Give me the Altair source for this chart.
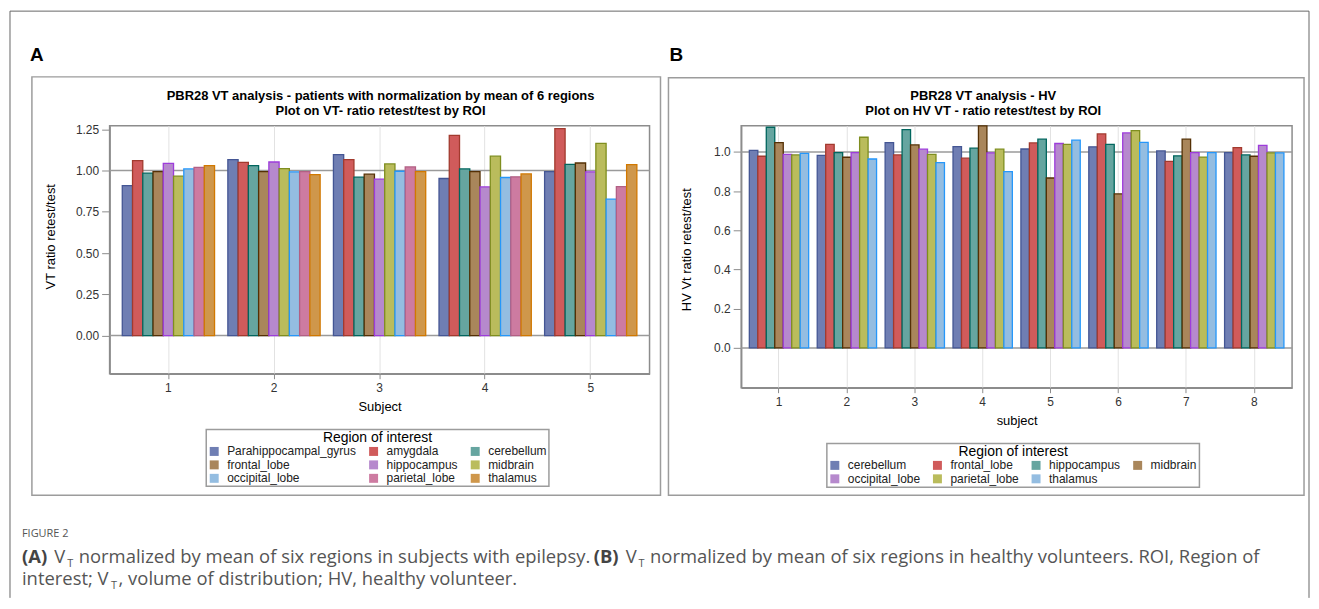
import altair as alt
import pandas as pd

# ---------------- data: panel A (patients) ----------------
subjects_a = ["1", "2", "3", "4", "5"]
regions_a = ["Parahippocampal_gyrus", "amygdala", "cerebellum", "frontal_lobe",
             "hippocampus", "midbrain", "occipital_lobe", "parietal_lobe", "thalamus"]
parahippocampal_a = [0.909, 1.066, 1.097, 0.952, 0.994]
amygdala_a = [1.060, 1.050, 1.066, 1.213, 1.254]
cerebellum_a = [0.984, 1.030, 0.960, 1.010, 1.038]
frontal_a = [0.994, 0.994, 0.978, 0.994, 1.046]
hippocampus_a = [1.044, 1.052, 0.948, 0.901, 0.992]
midbrain_a = [0.966, 1.012, 1.040, 1.087, 1.165]
occipital_a = [1.010, 0.992, 0.996, 0.958, 0.827]
parietal_a = [1.020, 0.994, 1.022, 0.962, 0.903]
thalamus_a = [1.030, 0.976, 0.994, 0.980, 1.036]
ticks_a = [0.0, 0.25, 0.5, 0.75, 1.0, 1.25]

# ---------------- data: panel B (healthy volunteers) ----------------
subjects_b = ["1", "2", "3", "4", "5", "6", "7", "8"]
regions_b = ["cerebellum", "frontal_lobe", "hippocampus", "midbrain",
             "occipital_lobe", "parietal_lobe", "thalamus"]
cerebellum_b = [1.008, 0.983, 1.048, 1.027, 1.015, 1.026, 1.005, 0.997]
frontal_b = [0.978, 1.039, 0.985, 0.968, 1.046, 1.092, 0.952, 1.022]
hippocampus_b = [1.126, 0.997, 1.114, 1.019, 1.065, 1.039, 0.980, 0.985]
midbrain_b = [1.048, 0.973, 1.036, 1.133, 0.867, 0.786, 1.065, 0.978]
occipital_b = [0.988, 0.997, 1.014, 0.995, 1.043, 1.097, 0.997, 1.034]
parietal_b = [0.985, 1.075, 0.988, 1.014, 1.039, 1.109, 0.974, 0.995]
thalamus_b = [0.993, 0.964, 0.946, 0.900, 1.060, 1.049, 0.997, 0.995]
ticks_b = [0.0, 0.2, 0.4, 0.6, 0.8, 1.0]

fill_colors = ["#6F7EB3", "#D05B5B", "#66A5A0", "#A9865B", "#B689CD",
               "#BABC5C", "#94BDE1", "#CD7BA1", "#CF974B"]
edge_colors = ["#445694", "#A23A2E", "#01665E", "#543005", "#9D3CDB",
               "#7F8E1F", "#2597FA", "#B26084", "#D17800"]

FONT = "Liberation Sans"
CAP_FONT = "Open Sans"
CAP = 18.5


def long_table(subjects, regions, series):
    rows = []
    for reg, vals in zip(regions, series):
        for s, v in zip(subjects, vals):
            rows.append({"subject": s, "region": reg, "value": v})
    return pd.DataFrame(rows)


df_a = long_table(subjects_a, regions_a,
                  [parahippocampal_a, amygdala_a, cerebellum_a, frontal_a, hippocampus_a,
                   midbrain_a, occipital_a, parietal_a, thalamus_a])
df_b = long_table(subjects_b, regions_b,
                  [cerebellum_b, frontal_b, hippocampus_b, midbrain_b,
                   occipital_b, parietal_b, thalamus_b])


def txt(text, x, y, size, color="#000000", weight="normal", font=FONT, align="left", angle=0):
    return alt.Chart(pd.DataFrame({"t": [text]})).mark_text(
        align=align, baseline="alphabetic", fontSize=size, fontWeight=weight,
        font=font, color=color, angle=angle
    ).encode(text="t:N", x=alt.value(x), y=alt.value(y))


def box(x1, x2, y1, y2, color="#9c9c9c", width=1.5):
    return alt.Chart(pd.DataFrame({"k": [0]})).mark_rect(
        fillOpacity=0, stroke=color, strokeWidth=width
    ).encode(x=alt.value(x1), x2=alt.value(x2), y=alt.value(y1), y2=alt.value(y2))


def hline(x1, x2, y, color="#666666", width=1):
    return alt.Chart(pd.DataFrame({"k": [0]})).mark_rule(color=color, strokeWidth=width).encode(
        x=alt.value(x1), x2=alt.value(x2), y=alt.value(y))


def vline(x, y1, y2, color="#666666", width=1):
    return alt.Chart(pd.DataFrame({"k": [0]})).mark_rule(color=color, strokeWidth=width).encode(
        x=alt.value(x), y=alt.value(y1), y2=alt.value(y2))


def panel(df, subjects, regions, ticks, fmt, domain, ytitle, xtitle,
          legend_x, legend_y, columns, ytitle_y, ytitle_pad):
    n = len(regions)
    yenc = alt.Y("value:Q", scale=alt.Scale(domain=domain, nice=False, zero=False),
                 axis=alt.Axis(values=ticks, format=fmt, title=ytitle, grid=False,
                               tickSize=8, labelPadding=3, titlePadding=ytitle_pad,
                               titleY=ytitle_y))
    refs = alt.Chart(pd.DataFrame({"value": [0.0, 1.0]})).mark_rule(
        color="#9a9a9a", strokeWidth=1.5).encode(y=yenc)
    bars = alt.Chart(df).mark_bar(strokeWidth=1.3).encode(
        x=alt.X("subject:N", sort=subjects,
                scale=alt.Scale(paddingInner=0.126, paddingOuter=0.12),
                axis=alt.Axis(title=xtitle, labelAngle=0, grid=True, gridColor="#e2e2e2",
                              tickSize=5, labelPadding=4, titlePadding=7)),
        xOffset=alt.XOffset("region:N", sort=regions,
                            scale=alt.Scale(paddingInner=0, paddingOuter=0)),
        y=yenc,
        fill=alt.Fill("region:N", sort=regions,
                      scale=alt.Scale(domain=regions, range=fill_colors[:n]),
                      legend=alt.Legend(title="Region of interest", orient="none",
                                        legendX=legend_x, legendY=legend_y,
                                        columns=columns, direction="horizontal")),
        stroke=alt.Stroke("region:N", sort=regions,
                          scale=alt.Scale(domain=regions, range=edge_colors[:n]),
                          legend=None),
    )
    return refs, bars


refs_a, bars_a = panel(df_a, subjects_a, regions_a, ticks_a, ".2f", [-0.231, 1.272],
                       "VT ratio retest/test", "Subject", 97, 305, 3, 111, 18)
refs_b, bars_b = panel(df_b, subjects_b, regions_b, ticks_b, ".1f", [-0.203, 1.134],
                       "HV Vt ratio retest/test", "subject", 86, 319, 4, 124, 20)

CAPC = "#555555"
chart_a = alt.layer(
    # outer figure frame
    hline(-100, 1204, -115),
    vline(-100, -115, 474),
    vline(1204, -115, 474),
    box(-78, 553, -49, 371),
    txt("A", -80, -65, 19, weight="bold"),
    txt("PBR28 VT analysis - patients with normalization by mean of 6 regions", 272, -26, 13,
        weight="bold", align="center"),
    txt("Plot on VT- ratio retest/test by ROI", 272, -11, 13, weight="bold", align="center"),
    refs_a, bars_a,
    # caption
    txt("FIGURE 2", -88, 413, 11, color=CAPC, font=CAP_FONT),
    txt("(A)", -88, 439, CAP, color="#444444", weight="bold", font=CAP_FONT),
    txt("V", -55.5, 439, CAP, color=CAPC, font=CAP_FONT),
    txt("T", -42.5, 443, 11, color=CAPC, font=CAP_FONT),
    txt("normalized by mean of six regions in subjects with epilepsy.", -31, 439, CAP,
        color=CAPC, font=CAP_FONT),
    txt("(B)", 486, 439, CAP, color="#444444", weight="bold", font=CAP_FONT),
    txt("V", 518, 439, CAP, color=CAPC, font=CAP_FONT),
    txt("T", 531, 443, 11, color=CAPC, font=CAP_FONT),
    txt("normalized by mean of six regions in healthy volunteers. ROI, Region of", 542.5, 439, CAP,
        color=CAPC, font=CAP_FONT),
    txt("interest; V", -88, 461, CAP, color=CAPC, font=CAP_FONT),
    txt("T", 1.5, 465, 11, color=CAPC, font=CAP_FONT),
    txt(", volume of distribution; HV, healthy volunteer.", 9, 461, CAP,
        color=CAPC, font=CAP_FONT),
).properties(width=542, height=249)

chart_b = alt.layer(
    box(-73, 565, -48, 371),
    txt("B", -72, -65, 19, weight="bold"),
    txt("PBR28 VT analysis  - HV", 243, -26, 13, weight="bold", align="center"),
    txt("Plot on HV VT - ratio retest/test  by ROI", 243, -11, 13, weight="bold", align="center"),
    refs_b, bars_b,
).properties(width=553, height=263)

chart = alt.hconcat(chart_a, chart_b, spacing=92, bounds="flush").resolve_scale(
    x="independent", y="independent", fill="independent", stroke="independent", xOffset="independent"
).properties(
    padding={"left": 0, "top": 0, "right": 0, "bottom": 0}
).configure_view(
    stroke="#8c8c8c", strokeWidth=1.5
).configure_axis(
    domainColor="#8c8c8c", domainWidth=1.5, tickColor="#8c8c8c", tickWidth=1,
    labelColor="#333333", labelFont=FONT, labelFontSize=12,
    titleFont=FONT, titleFontSize=13, titleFontWeight="normal", titleColor="#000000"
).configure_legend(
    strokeColor="#9c9c9c", strokeWidth=1.5, padding=2, fillColor="white",
    titleFont=FONT, titleFontSize=14, titleFontWeight="normal", titleColor="#000000",
    titleAnchor="middle", titlePadding=0,
    labelFont=FONT, labelFontSize=12, labelColor="#222222",
    symbolType="square", symbolSize=81, symbolStrokeWidth=0, labelOffset=7,
    columnPadding=11, rowPadding=1.5
)

chart.save("out.html", embed_options={"renderer": "svg", "actions": False})
